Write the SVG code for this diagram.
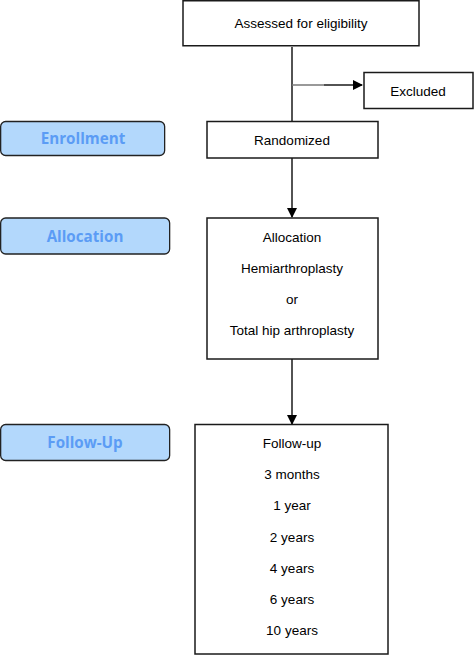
<svg xmlns="http://www.w3.org/2000/svg" width="474" height="655" viewBox="0 0 474 655">
<style>
.box{fill:#fff;stroke:#1a1a1a;stroke-width:1.5}
.pill{fill:#b3d8fc;stroke:#222;stroke-width:1.3}
.t{font-family:"Liberation Sans",Arial,sans-serif;font-size:13.5px;fill:#000;text-anchor:middle}
.p{font-family:"Open Sans","Liberation Sans",sans-serif;font-weight:bold;font-size:15.2px;fill:#5b9cf5;text-anchor:middle}
.c{stroke:#1a1a1a;stroke-width:1.5;fill:none}
</style>
<defs>
<marker id="ah" markerWidth="10" markerHeight="10" refX="9" refY="5" orient="auto" markerUnits="userSpaceOnUse">
<path d="M0,0 L10,5 L0,10 Z" fill="#000"/>
</marker>
</defs>
<g id="connectors">
<line class="c" x1="292" y1="47" x2="292" y2="121"/>
<line x1="292" y1="85" x2="324" y2="85" stroke="#777" stroke-width="1.5"/>
<line class="c" x1="324" y1="85" x2="362" y2="85" marker-end="url(#ah)"/>
<line class="c" x1="292" y1="158" x2="292" y2="217" marker-end="url(#ah)"/>
<line class="c" x1="292" y1="359" x2="292" y2="424" marker-end="url(#ah)"/>
</g>
<g id="assessed">
<rect class="box" x="183" y="0.75" width="236" height="45"/>
<text class="t" x="301" y="27.5">Assessed for eligibility</text>
</g>
<g id="excluded">
<rect class="box" x="364" y="72.5" width="109" height="36"/>
<text class="t" x="418" y="95.5">Excluded</text>
</g>
<g id="enrollment">
<rect class="pill" x="0.65" y="121.5" width="164" height="34" rx="5"/>
<text class="p" x="83" y="144">Enrollment</text>
</g>
<g id="randomized">
<rect class="box" x="207" y="121.5" width="171" height="36.5"/>
<text class="t" x="292" y="144.5">Randomized</text>
</g>
<g id="allocation-label">
<rect class="pill" x="0.65" y="218" width="169" height="36" rx="5"/>
<text class="p" x="85" y="241.5">Allocation</text>
</g>
<g id="allocation">
<rect class="box" x="207" y="218" width="171" height="141"/>
<text class="t" x="292" y="241.5">Allocation</text>
<text class="t" x="292" y="272.5">Hemiarthroplasty</text>
<text class="t" x="292" y="304">or</text>
<text class="t" x="292" y="335">Total hip arthroplasty</text>
</g>
<g id="followup-label">
<rect class="pill" x="0.65" y="424.5" width="169" height="36" rx="5"/>
<text class="p" x="85" y="448">Follow-Up</text>
</g>
<g id="followup">
<rect class="box" x="195" y="424.5" width="193" height="229.5"/>
<text class="t" x="292" y="447.5">Follow-up</text>
<text class="t" x="292" y="478.5">3 months</text>
<text class="t" x="292" y="510">1 year</text>
<text class="t" x="292" y="541.5">2 years</text>
<text class="t" x="292" y="573">4 years</text>
<text class="t" x="292" y="604">6 years</text>
<text class="t" x="292" y="635">10 years</text>
</g>
</svg>
